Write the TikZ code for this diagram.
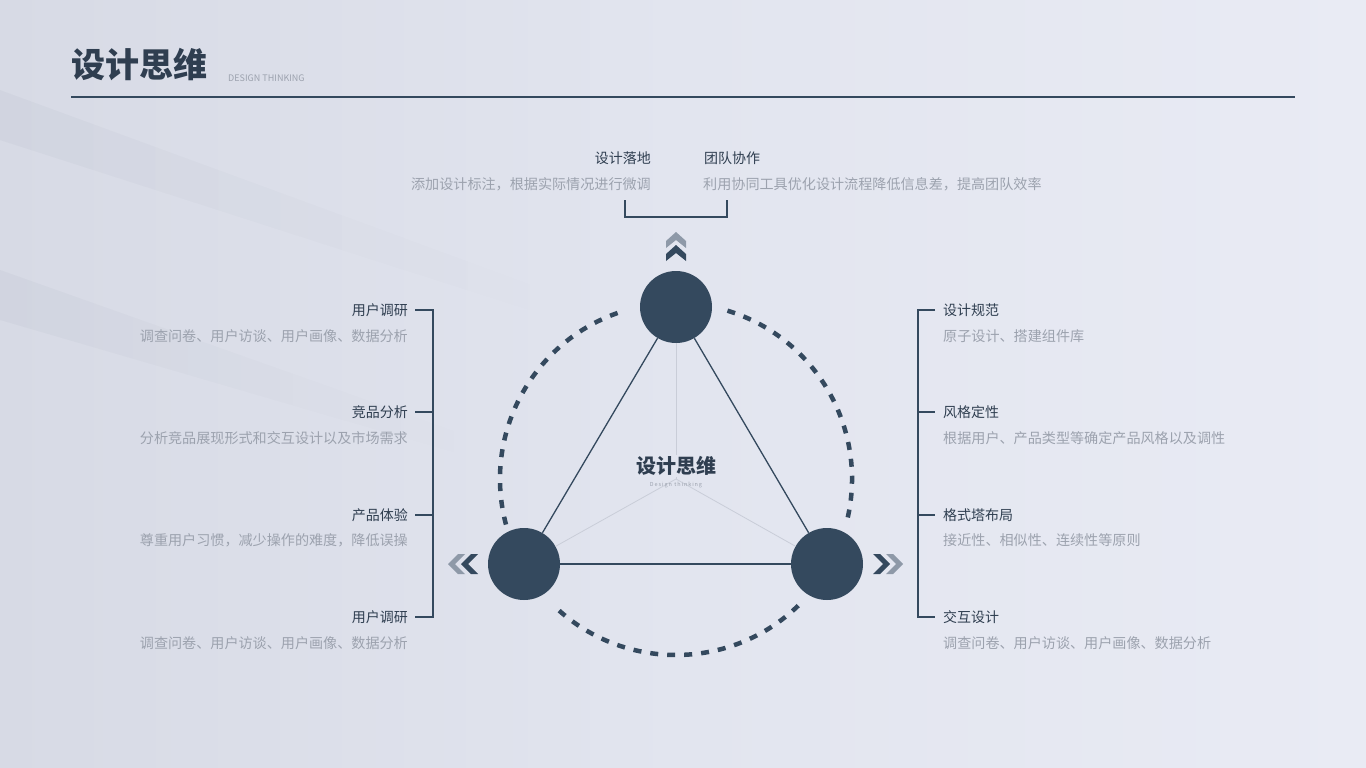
\documentclass[tikz,border=0pt]{standalone}
\usepackage{fontspec}
\setmainfont{Noto Sans CJK SC}
\usetikzlibrary{calc,fadings}
\definecolor{navy}{HTML}{34495E}
\definecolor{txtdark}{HTML}{2F3E50}
\definecolor{txtgray}{HTML}{9CA2AE}
\definecolor{chevgray}{HTML}{8E99A8}
\definecolor{thin}{HTML}{C9CDD8}
\definecolor{bgL}{HTML}{D7DAE5}
\definecolor{bgM}{HTML}{E2E5EF}
\definecolor{bgR}{HTML}{E9EBF4}
\tikzset{
  ttl/.style={inner sep=0pt, text=txtdark, font=\fontsize{14}{16}\selectfont},
  dsc/.style={inner sep=0pt, text=txtgray, font=\fontsize{14.1}{16}\selectfont},
  dot/.style={circle, fill=navy, minimum size=72pt, inner sep=0pt},
  brk/.style={draw=navy, line width=1.5pt},
  ring/.style={draw=navy, line width=4.5pt, dash pattern=on 8pt off 9pt},
  edge/.style={draw=navy, line width=1.3pt},
  spoke/.style={draw=thin, line width=0.8pt},
}
\begin{document}
\begin{tikzpicture}[x=1pt,y=-1pt]
\useasboundingbox (0,0) rectangle (1366,768);
\shade[left color=bgL, right color=bgR, middle color=bgM] (0,0) rectangle (1366,768);
% soft shadows
\fill[navy, opacity=0.035, path fading=east] (0,90) -- (0,140) -- (560,320) -- (560,295) -- cycle;
\fill[navy, opacity=0.035, path fading=east] (0,270) -- (0,320) -- (480,460) -- (480,440) -- cycle;

% header
\node[inner sep=0pt, anchor=west, text=txtdark, font=\fontsize{34}{36}\selectfont\bfseries] (title) at (71,65) {设计思维};
\node[inner sep=0pt, anchor=west, text=txtgray, font=\fontsize{9}{10}\selectfont] (sub) at (228,78) {DESIGN THINKING};
\coordinate (hl) at (71,97);
\coordinate (hr) at (1295,97);
\draw[draw=navy, line width=1.5pt] (hl) -- (hr);

% circle geometry
\coordinate (O) at (676,479);
\node[dot] (top) at (676,307) {};
\node[dot] (lft) at (524,564) {};
\node[dot] (rgt) at (827,564) {};

\draw[ring] (O) ++(165:176) arc (165:252:176);
\draw[ring] (O) ++(287:176) arc (287:374:176);
\draw[ring] (O) ++(46:176) arc (46:134:176);

\draw[spoke] (O) -- (top);
\draw[spoke] (O) -- (lft);
\draw[spoke] (O) -- (rgt);
\draw[edge] (top) -- (lft);
\draw[edge] (lft) -- (rgt);
\draw[edge] (rgt) -- (top);

\node[inner sep=1pt, fill=bgM, text=txtdark, font=\fontsize{20}{22}\selectfont\bfseries] (ctitle) at (676,466) {设计思维};
\node[inner sep=0pt, text=txtgray, font=\fontsize{5.5}{6}\selectfont] (csub) at (676,485) {D\,e\,s\,i\,g\,n\ \ t\,h\,i\,n\,k\,i\,n\,g};

% chevrons
\fill[chevgray] (676,232) -- (686,241) -- (686,248) -- (676,240) -- (666,248) -- (666,241) -- cycle;
\fill[navy] (676,245) -- (686,254) -- (686,261) -- (676,253) -- (666,261) -- (666,254) -- cycle;
\fill[chevgray] (448,564) -- (458,554) -- (465,554) -- (455,564) -- (465,574) -- (458,574) -- cycle;
\fill[navy] (461,564) -- (471,554) -- (478,554) -- (468,564) -- (478,574) -- (471,574) -- cycle;
\fill[navy] (890,564) -- (880,554) -- (873,554) -- (883,564) -- (873,574) -- (880,574) -- cycle;
\fill[chevgray] (903,564) -- (893,554) -- (886,554) -- (896,564) -- (886,574) -- (893,574) -- cycle;

% top bracket
\coordinate (tb1) at (625,200);
\coordinate (tb2) at (625,217);
\coordinate (tb3) at (727,217);
\coordinate (tb4) at (727,200);
\draw[brk] (tb1) -- (tb2) -- (tb3) -- (tb4);
\node[ttl, anchor=east] (t1) at (651,158) {设计落地};
\node[dsc, anchor=east] (d1) at (651,184) {添加设计标注，根据实际情况进行微调};
\node[ttl, anchor=west] (t2) at (704,158) {团队协作};
\node[dsc, anchor=west] (d2) at (703,184) {利用协同工具优化设计流程降低信息差，提高团队效率};

% left bracket
\coordinate (lb1) at (433,310);
\coordinate (lb4) at (433,617);
\draw[brk] (415,310) -- (lb1) -- (lb4) -- (415,617);
\draw[brk] (415,412) -- (433,412);
\draw[brk] (415,515) -- (433,515);
\node[ttl, anchor=east] (l1) at (408,310) {用户调研};
\node[dsc, anchor=east] (ld1) at (408,336) {调查问卷、用户访谈、用户画像、数据分析};
\node[ttl, anchor=east] (l2) at (408,412) {竞品分析};
\node[dsc, anchor=east] (ld2) at (408,438) {分析竞品展现形式和交互设计以及市场需求};
\node[ttl, anchor=east] (l3) at (408,515) {产品体验};
\node[dsc, anchor=east] (ld3) at (408,540) {尊重用户习惯，减少操作的难度，降低误操};
\node[ttl, anchor=east] (l4) at (408,617) {用户调研};
\node[dsc, anchor=east] (ld4) at (408,643) {调查问卷、用户访谈、用户画像、数据分析};

% right bracket
\coordinate (rb1) at (918,310);
\coordinate (rb4) at (918,617);
\draw[brk] (935,310) -- (rb1) -- (rb4) -- (935,617);
\draw[brk] (918,412) -- (935,412);
\draw[brk] (918,515) -- (935,515);
\node[ttl, anchor=west] (r1) at (943,310) {设计规范};
\node[dsc, anchor=west] (rd1) at (943,336) {原子设计、搭建组件库};
\node[ttl, anchor=west] (r2) at (943,412) {风格定性};
\node[dsc, anchor=west] (rd2) at (943,438) {根据用户、产品类型等确定产品风格以及调性};
\node[ttl, anchor=west] (r3) at (943,515) {格式塔布局};
\node[dsc, anchor=west] (rd3) at (943,540) {接近性、相似性、连续性等原则};
\node[ttl, anchor=west] (r4) at (943,617) {交互设计};
\node[dsc, anchor=west] (rd4) at (943,643) {调查问卷、用户访谈、用户画像、数据分析};
\end{tikzpicture}
\end{document}
